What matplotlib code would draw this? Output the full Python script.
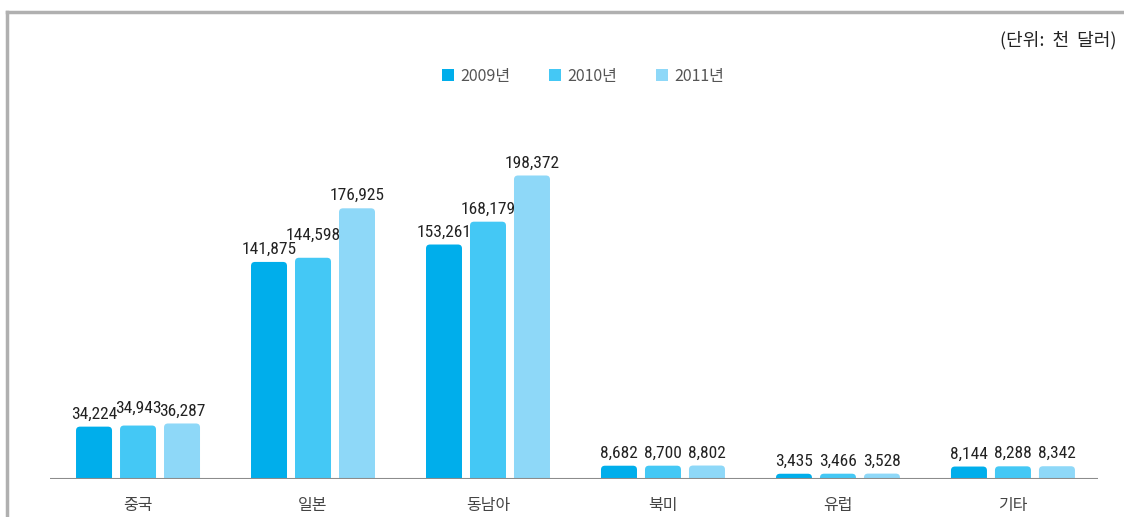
import matplotlib.pyplot as plt
from matplotlib import font_manager
from matplotlib.lines import Line2D
from matplotlib.patches import FancyBboxPatch, Patch

plt.rcParams["font.family"] = ["Noto Sans CJK KR", "DejaVu Sans"]

categories = ["중국", "일본", "동남아", "북미", "유럽", "기타"]
years = ["2009년", "2010년", "2011년"]
values_2009 = [34224, 141875, 153261, 8682, 3435, 8144]
values_2010 = [34943, 144598, 168179, 8700, 3466, 8288]
values_2011 = [36287, 176925, 198372, 8802, 3528, 8342]
colors = ["#00AEEB", "#44C8F5", "#8ED8F8"]

series = [values_2009, values_2010, values_2011]

# extra lift (px) for a few labels that would collide, as in the original
label_lift = {(1, 0): 5, (1, 1): 10}

# narrow font for the value labels if there is one
installed = {f.name for f in font_manager.fontManager.ttflist}
if "Roboto Condensed" in installed:
    num_font, num_size = "Roboto Condensed", 12.5
else:
    num_font, num_size = "Roboto", 10.2

fig = plt.figure(figsize=(11.24, 5.17), dpi=100)
ax = fig.add_axes([50 / 1124, 1 - 479 / 517, 1048 / 1124, 379 / 517])

px_per_unit = 0.00153
ymax = 379 / px_per_unit
ax.set_xlim(-0.503, 5.486)
ax.set_ylim(0, ymax)

bar_w = 36 / 175
step = 44 / 175
rx = 4 / 175
ry = 4 / px_per_unit

for i, vals in enumerate(series):
    for j, v in enumerate(vals):
        x0 = j + (i - 1) * step - bar_w / 2
        box = FancyBboxPatch((x0, -ry), bar_w, v + ry,
                             boxstyle=f"round,pad=0,rounding_size={rx}",
                             mutation_aspect=ry / rx,
                             facecolor=colors[i], edgecolor="none")
        ax.add_patch(box)
        lift = 8 + label_lift.get((i, j), 0)
        ax.text(j + (i - 1) * step, v + lift / px_per_unit, f"{v:,}",
                ha="center", va="baseline", fontsize=num_size, color="#222222",
                family=[num_font, "DejaVu Sans"])

ax.axhline(0, color="#8c8c8c", lw=1.5, zorder=5)
for s in ax.spines.values():
    s.set_visible(False)
ax.set_yticks([])
ax.set_xticks(range(len(categories)))
ax.set_xticklabels(categories, fontsize=11.5, color="#444444")
ax.tick_params(axis="x", length=0, pad=13)

# frame lines at top and left of the picture
fig.add_artist(Line2D([7 / 1124, 1], [1 - 12 / 517, 1 - 12 / 517],
                      color="#b0b0b0", lw=2.5, transform=fig.transFigure))
fig.add_artist(Line2D([7 / 1124, 7 / 1124], [0, 1 - 12 / 517],
                      color="#b0b0b0", lw=2.5, transform=fig.transFigure))

fig.text(1117 / 1124, 1 - 40 / 517, "(단위:  천  달러)", ha="right", va="center",
         fontsize=13, color="#222222")

handles = [Patch(facecolor=c, edgecolor="none") for c in colors]
fig.legend(handles, years, loc="center", bbox_to_anchor=(583 / 1124, 1 - 76 / 517),
           ncol=3, frameon=False, fontsize=11.5, handlelength=0.75, handleheight=0.75,
           handletextpad=0.4, columnspacing=2.4, labelcolor="#555555")

fig.savefig("out.png", dpi=100)
